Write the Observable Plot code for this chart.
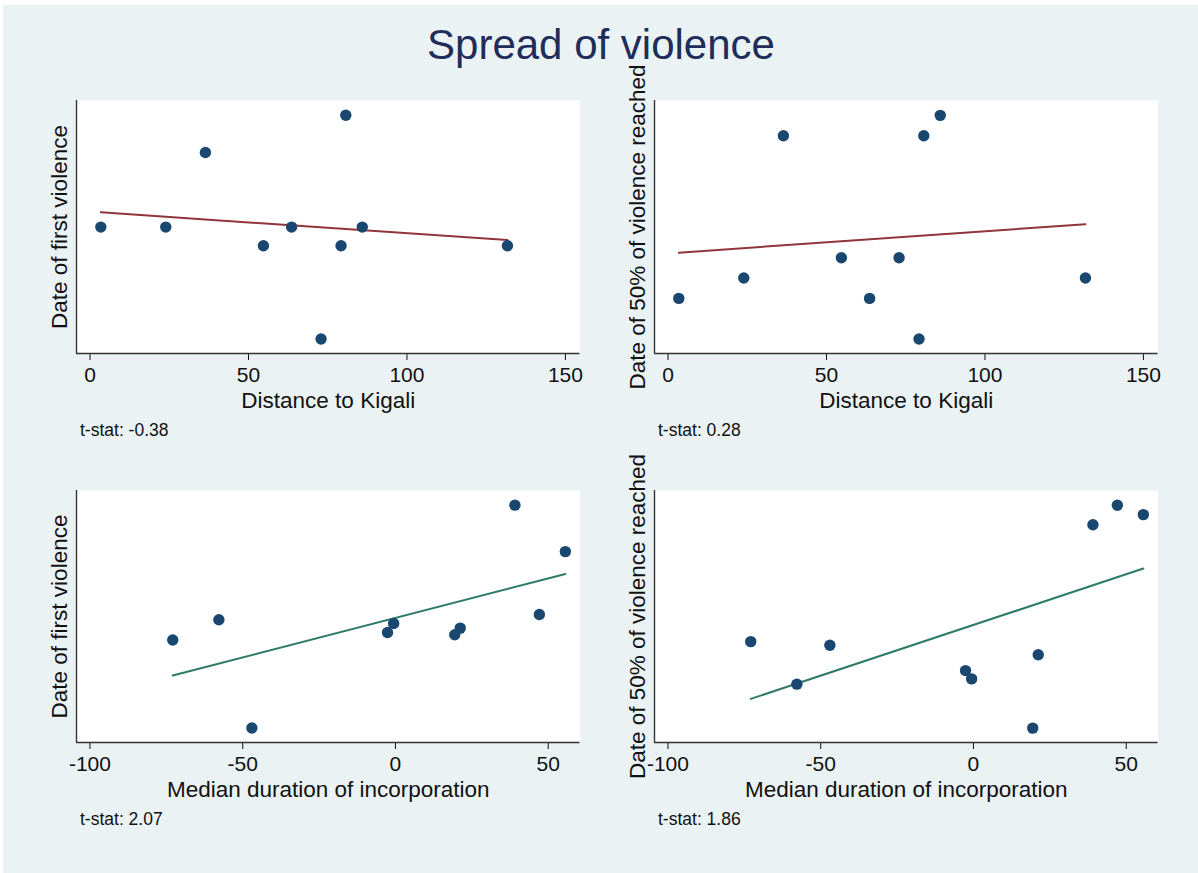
<!DOCTYPE html>
<html><head><meta charset="utf-8">
<script src="https://cdn.jsdelivr.net/npm/d3@7"></script>
<script src="https://cdn.jsdelivr.net/npm/@observablehq/plot@0.6"></script>
<style>
body{margin:0;background:#fff;}
#root{position:relative;width:1198px;height:873px;overflow:hidden;font-family:"Liberation Sans",Arial,Helvetica,sans-serif;}
#bg{position:absolute;left:3px;top:5px;right:0;bottom:0;background:#eaf2f3;}
#title{position:absolute;left:0;width:1202px;top:24px;text-align:center;font-size:42px;line-height:42px;color:#1e2d5a;}
</style></head><body>
<div id="root"><div id="bg"></div><div id="title">Spread of violence</div></div>
<script>
// ---- data (y values: day offsets in April, axis unlabeled) ----
const distance = [3.4, 23.9, 36.4, 54.7, 63.6, 72.9, 79.2, 80.7, 85.9, 131.7];
const firstViolenceByDistance = [13, 13, 17, 12, 13, 7, 12, 19, 13, 12];
const halfViolenceByDistance = [12, 13, 20, 14, 12, 14, 10, 20, 21, 13];
const duration = [-72.9, -57.8, -47.0, -2.6, -0.6, 19.4, 21.2, 39.1, 47.1, 55.6];
const firstViolenceByDuration = [11.74, 12.83, 7, 12.14, 12.63, 12.02, 12.38, 19, 13.11, 16.5];
const halfViolenceByDuration = [14.27, 12.17, 14.09, 12.84, 12.43, 10, 13.62, 20.04, 21, 20.54];
const distanceTicks = [0, 50, 100, 150];
const durationTicks = [-100, -50, 0, 50];
const tStats = ["t-stat: -0.38", "t-stat: 0.28", "t-stat: 2.07", "t-stat: 1.86"];
const xTitles = ["Distance to Kigali", "Median duration of incorporation"];
const yTitles = ["Date of first violence", "Date of 50% of violence reached"];

const FONT = '"Liberation Sans", Arial, Helvetica, sans-serif';
const ML = 60, MT = 62, MB = 92, MR = 10, PW = 503.5;
const yDomFirst = [6.22, 19.79], yDomHalf = [9.29, 21.73];
const xDomDist = [-4.27, 154.6], xDomDur = [-104.4, 60.4];

const panels = [
  {x: distance, y: firstViolenceByDistance, xd: xDomDist, yd: yDomFirst, ticks: distanceTicks, xt: xTitles[0], yt: yTitles[0], t: tStats[0], fit: "#90353b", left: 75.8, top: 100, h: 253},
  {x: distance, y: halfViolenceByDistance, xd: xDomDist, yd: yDomHalf, ticks: distanceTicks, xt: xTitles[0], yt: yTitles[1], t: tStats[1], fit: "#90353b", left: 654.3, top: 100, h: 253},
  {x: duration, y: firstViolenceByDuration, xd: xDomDur, yd: yDomFirst, ticks: durationTicks, xt: xTitles[1], yt: yTitles[0], t: tStats[2], fit: "#2e7a69", left: 75.8, top: 490, h: 252},
  {x: duration, y: halfViolenceByDuration, xd: xDomDur, yd: yDomHalf, ticks: durationTicks, xt: xTitles[1], yt: yTitles[1], t: tStats[3], fit: "#2e7a69", left: 654.3, top: 490, h: 252}
];

const root = document.getElementById("root");
for (const p of panels) {
  const data = p.x.map((x, i) => ({x, y: p.y[i]}));
  const chart = Plot.plot({
    width: ML + PW + MR, height: MT + p.h + MB,
    marginLeft: ML, marginRight: MR, marginTop: MT, marginBottom: MB,
    style: {background: "transparent", overflow: "visible", fontFamily: FONT, fontSize: "21px", color: "#111"},
    x: {domain: p.xd, ticks: p.ticks, tickSize: 7, tickPadding: 7, label: null, tickFormat: d => String(d)},
    y: {domain: p.yd, axis: null},
    marks: [
      Plot.frame({fill: "white", stroke: "none"}),
      Plot.ruleY([p.yd[0]], {stroke: "#333", strokeWidth: 1.4}),
      Plot.ruleX([p.xd[0]], {stroke: "#333", strokeWidth: 1.4}),
      Plot.linearRegressionY(data, {x: "x", y: "y", stroke: p.fit, strokeWidth: 2, ci: 0}),
      Plot.dot(data, {x: "x", y: "y", r: 5.7, fill: "#1a476f"}),
      Plot.text([p.xt], {text: d => d, frameAnchor: "bottom", lineAnchor: "bottom", dy: 54, fontSize: 22.5, fill: "#111"}),
      Plot.text([p.yt], {text: d => d, frameAnchor: "left", rotate: -90, textAnchor: "middle", lineAnchor: "middle", dx: -16.5, fontSize: 22.5, fill: "#111"}),
      Plot.text([p.t], {text: d => d, frameAnchor: "bottom-left", textAnchor: "start", lineAnchor: "bottom", dx: 3.5, dy: 82, fontSize: 17.5, fill: "#111"})
    ]
  });
  chart.style.position = "absolute";
  chart.style.left = (p.left - ML) + "px";
  chart.style.top = (p.top - MT) + "px";
  chart.style.maxWidth = "none";
  root.appendChild(chart);
}
</script>
</body></html>
